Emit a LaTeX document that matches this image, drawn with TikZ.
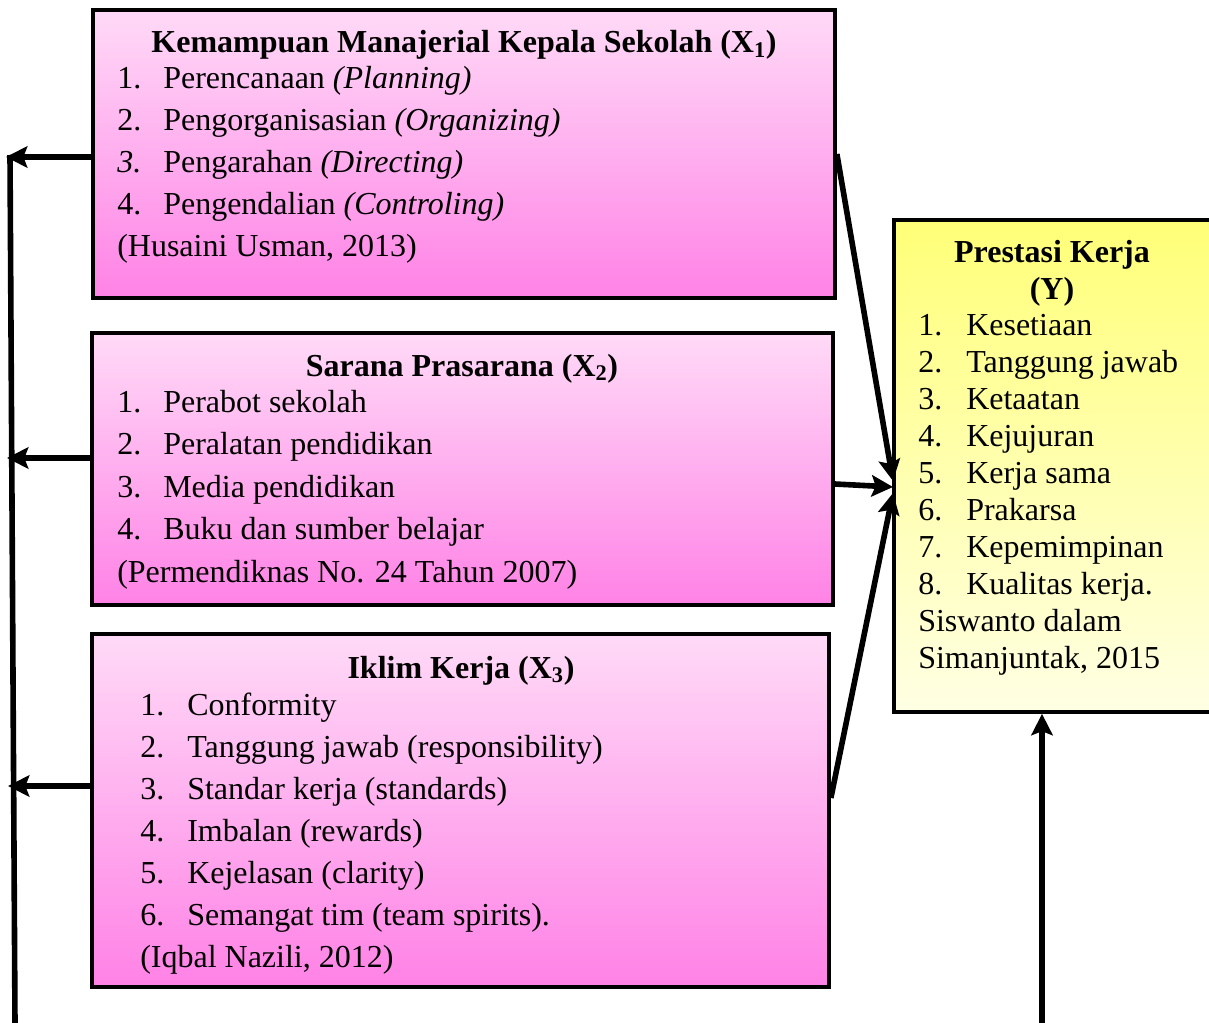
\documentclass[tikz,border=0pt]{standalone}
\usepackage{fontspec}
\setmainfont{Liberation Serif}
\usetikzlibrary{arrows.meta,fit}
\definecolor{pinktop}{RGB}{255,218,247}
\definecolor{pinkbot}{RGB}{255,130,230}
\definecolor{yeltop}{RGB}{255,255,120}
\definecolor{yelbot}{RGB}{255,255,228}
\begin{document}
\begin{tikzpicture}[x=0.75pt,y=-0.75pt,
  every node/.style={font=\fontsize{24}{28}\selectfont},
  txt/.style={anchor=base west, inner sep=0pt},
  ttl/.style={anchor=base, inner sep=0pt, font=\fontsize{24}{28}\selectfont\bfseries},
  pinkbox/.style={draw=black, line width=2.8pt, inner sep=0pt, top color=pinktop, bottom color=pinkbot},
  yelbox/.style={draw=black, line width=2.8pt, inner sep=0pt, top color=yeltop, bottom color=yelbot},
  arr/.style={line width=4.2pt, -{Stealth[length=16pt,width=16pt,inset=3pt]}},
  conn/.style={line width=4.2pt}
]
\useasboundingbox (0,0) rectangle (1209,1023);

% boxes
\node[pinkbox, fit={(93,10)(835,298)}] (x1) {};
\node[pinkbox, fit={(92,333)(833,605)}] (x2) {};
\node[pinkbox, fit={(92,634)(829,987)}] (x3) {};
\node[yelbox, fit={(894,220)(1212,712)}] (y) {};

% X1 text
\node[ttl] (t1) at (464,53) {Kemampuan Manajerial Kepala Sekolah (X\textsubscript{1})};
\node[txt] (n11) at (117,89) {1.};  \node[txt] (i11) at (163,89) {Perencanaan \textit{(Planning)}};
\node[txt] (n12) at (117,131) {2.}; \node[txt] (i12) at (163,131) {Pengorganisasian \textit{(Organizing)}};
\node[txt] (n13) at (117,173) {\textit{3.}}; \node[txt] (i13) at (163,173) {Pengarahan \textit{(Directing)}};
\node[txt] (n14) at (117,215) {4.}; \node[txt] (i14) at (163,215) {Pengendalian \textit{(Controling)}};
\node[txt] (c1) at (117,257) {(Husaini Usman, 2013)};

% X2 text
\node[ttl] (t2) at (462,376) {Sarana Prasarana (X\textsubscript{2})};
\node[txt] (n21) at (117,412) {1.}; \node[txt] (i21) at (163,412) {Perabot sekolah};
\node[txt] (n22) at (117,454) {2.}; \node[txt] (i22) at (163,454) {Peralatan pendidikan};
\node[txt] (n23) at (117,497) {3.}; \node[txt] (i23) at (163,497) {Media pendidikan};
\node[txt] (n24) at (117,539) {4.}; \node[txt] (i24) at (163,539) {Buku dan sumber belajar};
\node[txt] (c2) at (117,582) {(Permendiknas No. 24 Tahun 2007)};

% X3 text
\node[ttl] (t3) at (461,678) {Iklim Kerja (X\textsubscript{3})};
\node[txt] (n31) at (140,715) {1.}; \node[txt] (i31) at (187,715) {Conformity};
\node[txt] (n32) at (140,757) {2.}; \node[txt] (i32) at (187,757) {Tanggung jawab (responsibility)};
\node[txt] (n33) at (140,799) {3.}; \node[txt] (i33) at (187,799) {Standar kerja (standards)};
\node[txt] (n34) at (140,841) {4.}; \node[txt] (i34) at (187,841) {Imbalan (rewards)};
\node[txt] (n35) at (140,883) {5.}; \node[txt] (i35) at (187,883) {Kejelasan (clarity)};
\node[txt] (n36) at (140,925) {6.}; \node[txt] (i36) at (187,925) {Semangat tim (team spirits).};
\node[txt] (c3) at (140,967) {(Iqbal Nazili, 2012)};

% Y text
\node[ttl] (ty1) at (1052,263) {Prestasi Kerja};
\node[ttl] (ty2) at (1052,300) {(Y)};
\node[txt] (ny1) at (918,335) {1.}; \node[txt] (iy1) at (966,335) {Kesetiaan};
\node[txt] (ny2) at (918,372) {2.}; \node[txt] (iy2) at (966,372) {Tanggung jawab};
\node[txt] (ny3) at (918,409) {3.}; \node[txt] (iy3) at (966,409) {Ketaatan};
\node[txt] (ny4) at (918,446) {4.}; \node[txt] (iy4) at (966,446) {Kejujuran};
\node[txt] (ny5) at (918,483) {5.}; \node[txt] (iy5) at (966,483) {Kerja sama};
\node[txt] (ny6) at (918,520) {6.}; \node[txt] (iy6) at (966,520) {Prakarsa};
\node[txt] (ny7) at (918,557) {7.}; \node[txt] (iy7) at (966,557) {Kepemimpinan};
\node[txt] (ny8) at (918,594) {8.}; \node[txt] (iy8) at (966,594) {Kualitas kerja.};
\node[txt] (cy1) at (918,631) {Siswanto dalam};
\node[txt] (cy2) at (918,668) {Simanjuntak, 2015};

% left feedback line
\coordinate (lt) at (10,155);
\coordinate (lb) at (15,1023);
\draw[conn] (lt) -- (lb);
\coordinate (l1) at (6,157);
\coordinate (l2) at (7,458);
\coordinate (l3) at (8,786);
\draw[arr] (x1.west |- l1) -- (l1);
\draw[arr] (x2.west |- l2) -- (l2);
\draw[arr] (x3.west |- l3) -- (l3);

% arrows to Y
\coordinate (e1) at (893,481);
\coordinate (e2) at (893,487);
\coordinate (e3) at (893,493);
\coordinate (s2) at (833,484);
\coordinate (s3) at (829,798);
\draw[arr] (x1.east) -- (e1);
\draw[arr] (x2.east |- s2) -- (e2);
\draw[arr] (x3.east |- s3) -- (e3);

% bottom arrow into Y
\coordinate (yb) at (1042,1023);
\draw[arr] (yb) -- (yb |- y.south);
\end{tikzpicture}
\end{document}
